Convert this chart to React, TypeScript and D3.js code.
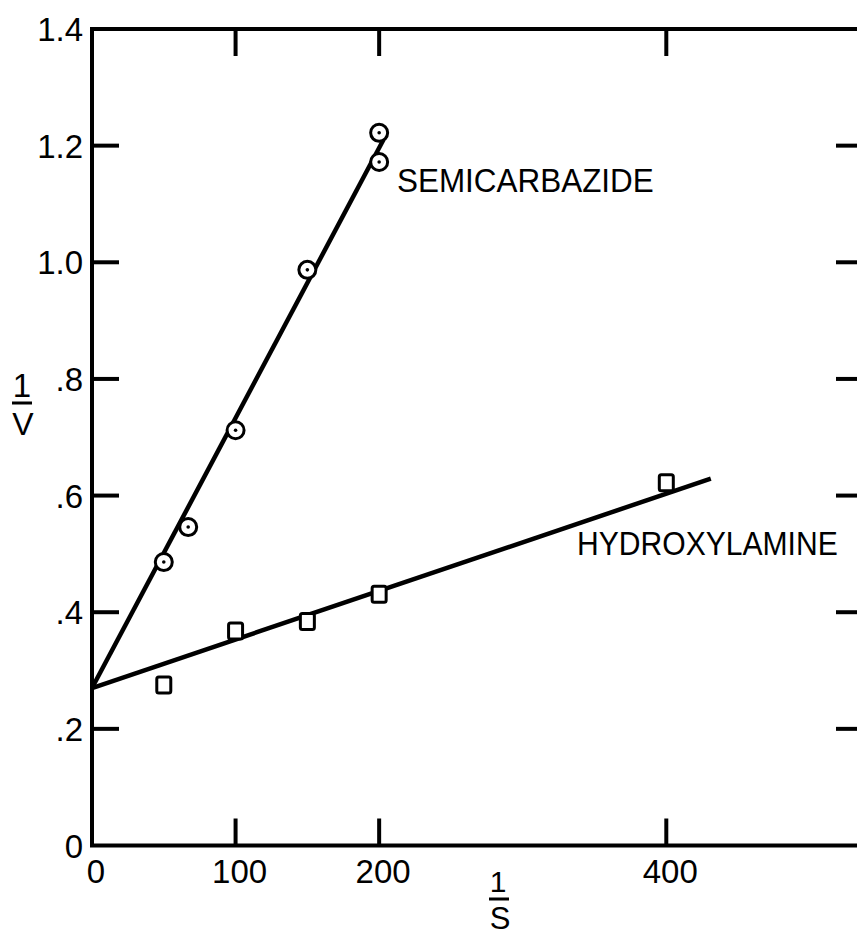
import React from "react";
import * as d3 from "d3";

// Semicarbazide (circles)
const semiX = [50, 67, 100, 150, 200, 200];
const semiY = [0.486, 0.546, 0.712, 0.987, 1.172, 1.222];
// Hydroxylamine (squares)
const hydroX = [50, 100, 150, 200, 400];
const hydroY = [0.275, 0.368, 0.384, 0.431, 0.622];
// Fitted lines (endpoints)
const semiLineX = [0, 203];
const semiLineY = [0.27, 1.21];
const hydroLineX = [0, 431];
const hydroLineY = [0.27, 0.629];

const xTicks = [0, 100, 200, 400];
const xTickLabels = ["0", "100", "200", "400"];
const yTicks = [0, 0.2, 0.4, 0.6, 0.8, 1.0, 1.2, 1.4];
const yTickLabels = ["0", ".2", ".4", ".6", ".8", "1.0", "1.2", "1.4"];

const W = 857;
const H = 938;

export default function App() {
  const x = d3.scaleLinear().domain([0, 537]).range([92, 863]);
  const y = d3.scaleLinear().domain([0, 1.4]).range([845.5, 29]);
  const line = d3
    .line<[number, number]>()
    .x((d) => x(d[0]))
    .y((d) => y(d[1]));
  const semiLine: [number, number][] = semiLineX.map((v, i) => [v, semiLineY[i]]);
  const hydroLine: [number, number][] = hydroLineX.map((v, i) => [v, hydroLineY[i]]);
  const font = "'Liberation Sans', Arial, sans-serif";
  const tickLen = 27;
  const x0 = x(0);
  const x1 = x(537);
  const yTop = y(1.4);
  const yBot = y(0);

  return (
    <svg
      width={W}
      height={H}
      style={{ position: "absolute", left: 0, top: 0, background: "#fff" }}
      fontFamily={font}
    >
      <rect x={0} y={0} width={W} height={H} fill="#fff" />
      {/* frame */}
      <rect
        x={x0}
        y={yTop}
        width={x1 - x0}
        height={yBot - yTop}
        fill="none"
        stroke="#000"
        strokeWidth={4}
      />
      {/* x ticks bottom and top */}
      {xTicks
        .filter((t) => t > 0)
        .map((t) => (
          <g key={"xt" + t}>
            <line x1={x(t)} x2={x(t)} y1={yBot} y2={yBot - tickLen} stroke="#000" strokeWidth={4} />
            <line x1={x(t)} x2={x(t)} y1={yTop} y2={yTop + tickLen} stroke="#000" strokeWidth={4} />
          </g>
        ))}
      {xTicks.map((t, i) => (
        <text
          key={"xl" + t}
          x={x(t) + 4}
          y={883}
          textAnchor="middle"
          fontSize={33}
          fill="#000"
        >
          {xTickLabels[i]}
        </text>
      ))}
      {/* y ticks left and right */}
      {yTicks
        .filter((t) => t > 0 && t < 1.4)
        .map((t) => (
          <g key={"yt" + t}>
            <line x1={x0} x2={x0 + tickLen} y1={y(t)} y2={y(t)} stroke="#000" strokeWidth={4} />
            <line x1={x1} x2={x1 - tickLen} y1={y(t)} y2={y(t)} stroke="#000" strokeWidth={4} />
          </g>
        ))}
      {yTicks.map((t, i) => (
        <text
          key={"yl" + t}
          x={83}
          y={y(t) + 12}
          textAnchor="end"
          fontSize={33}
          fill="#000"
        >
          {yTickLabels[i]}
        </text>
      ))}
      {/* axis titles */}
      <g>
        <text x={22} y={397} textAnchor="middle" fontSize={33} fill="#000">1</text>
        <line x1={12} x2={32} y1={403} y2={403} stroke="#000" strokeWidth={3} />
        <text x={23} y={435} textAnchor="middle" fontSize={32} fill="#000">V</text>
      </g>
      <g>
        <text x={498} y={892} textAnchor="middle" fontSize={30} fill="#000">1</text>
        <line x1={489} x2={509} y1={899} y2={899} stroke="#000" strokeWidth={3} />
        <text x={500} y={929} textAnchor="middle" fontSize={31} fill="#000">S</text>
      </g>
      {/* fitted lines */}
      <path d={line(semiLine) || ""} fill="none" stroke="#000" strokeWidth={4.5} />
      <path d={line(hydroLine) || ""} fill="none" stroke="#000" strokeWidth={4.5} />
      {/* semicarbazide points */}
      {semiX.map((v, i) => (
        <g key={"s" + i}>
          <circle cx={x(v)} cy={y(semiY[i])} r={8.5} fill="#fff" stroke="#000" strokeWidth={3} />
          <circle cx={x(v)} cy={y(semiY[i])} r={1.8} fill="#000" />
        </g>
      ))}
      {/* hydroxylamine points */}
      {hydroX.map((v, i) => (
        <rect
          key={"h" + i}
          x={x(v) - 7}
          y={y(hydroY[i]) - 8}
          width={14}
          height={16}
          rx={2}
          fill="#fff"
          stroke="#000"
          strokeWidth={3}
        />
      ))}
      {/* labels */}
      <text
        transform="translate(397,192) scale(0.925,1)"
        fontSize={34}
        fill="#000"
      >
        SEMICARBAZIDE
      </text>
      <text
        transform="translate(577,555) scale(0.885,1)"
        fontSize={34}
        fill="#000"
      >
        HYDROXYLAMINE
      </text>
    </svg>
  );
}
